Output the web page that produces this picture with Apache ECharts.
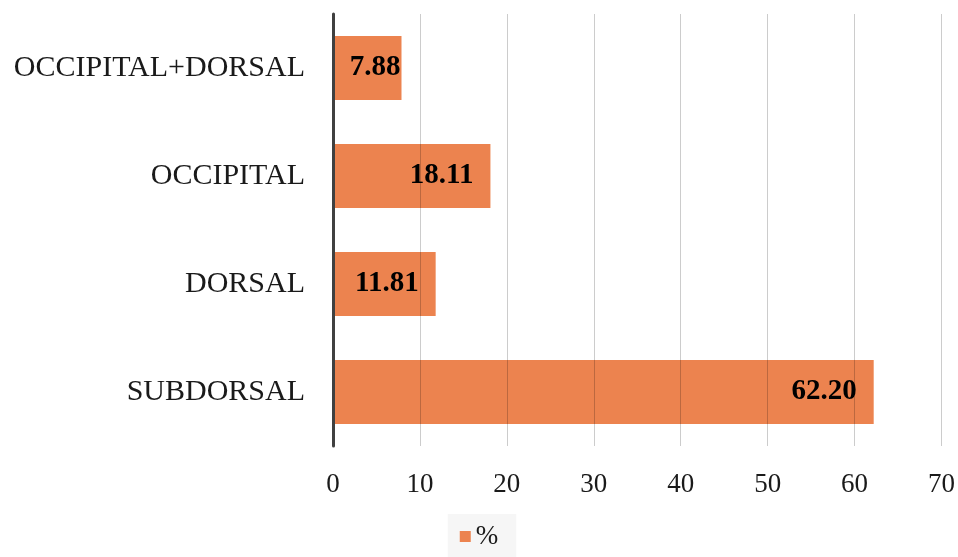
<!DOCTYPE html>
<html>
<head>
<meta charset="utf-8">
<script src="https://cdn.jsdelivr.net/npm/echarts@6/dist/echarts.min.js"></script>
<style>
  html, body { margin: 0; padding: 0; background: #fff; }
  #chart { width: 958px; height: 557px; }
</style>
</head>
<body>
<div id="chart"></div>
<script>
// Location categories, listed bottom to top
const categories = ['SUBDORSAL', 'DORSAL', 'OCCIPITAL', 'OCCIPITAL+DORSAL'];
// Percentage per location
const percentValues = [62.20, 11.81, 18.11, 7.88];
const seriesName = '%';
const xTicks = { min: 0, max: 70, interval: 10 };

const serif = '"Liberation Serif", "Times New Roman", serif';
const chart = echarts.init(document.getElementById('chart'), null, { renderer: 'canvas' });

// Short bars keep their label flush with the bar end so it stays off the axis
const barData = percentValues.map(v => ({
  value: v,
  label: { distance: v < 10 ? 1 : 17 }
}));

chart.setOption({
  animation: false,
  backgroundColor: '#ffffff',
  grid: { left: 333, right: 16, top: 14, bottom: 111, containLabel: false },
  legend: {
    bottom: 0,
    left: 'center',
    itemWidth: 11,
    itemHeight: 11,
    itemGap: 6,
    padding: [9, 18, 7, 12],
    backgroundColor: '#f6f6f6',
    icon: 'rect',
    textStyle: { fontFamily: serif, fontSize: 27, color: '#1a1a1a' },
    data: [seriesName]
  },
  xAxis: {
    type: 'value',
    min: xTicks.min,
    max: xTicks.max,
    interval: xTicks.interval,
    z: 5,
    axisLine: { show: false },
    axisTick: { show: false },
    axisLabel: { fontFamily: serif, fontSize: 27, color: '#1a1a1a', margin: 25 },
    splitLine: { show: true, lineStyle: { color: 'rgba(0,0,0,0.2)', width: 1 } }
  },
  yAxis: {
    type: 'category',
    data: categories,
    z: 6,
    axisLine: { show: true, lineStyle: { color: '#404040', width: 3 } },
    axisTick: { show: false },
    axisLabel: { fontFamily: serif, fontSize: 30, color: '#1a1a1a', margin: 28 }
  },
  series: [{
    name: seriesName,
    type: 'bar',
    data: barData,
    barWidth: 64,
    itemStyle: { color: '#EC834F' },
    label: {
      show: true,
      position: 'insideRight',
      fontFamily: serif,
      fontWeight: 'bold',
      fontSize: 29,
      color: '#000000',
      formatter: p => p.value.toFixed(2)
    }
  }]
});
</script>
</body>
</html>
